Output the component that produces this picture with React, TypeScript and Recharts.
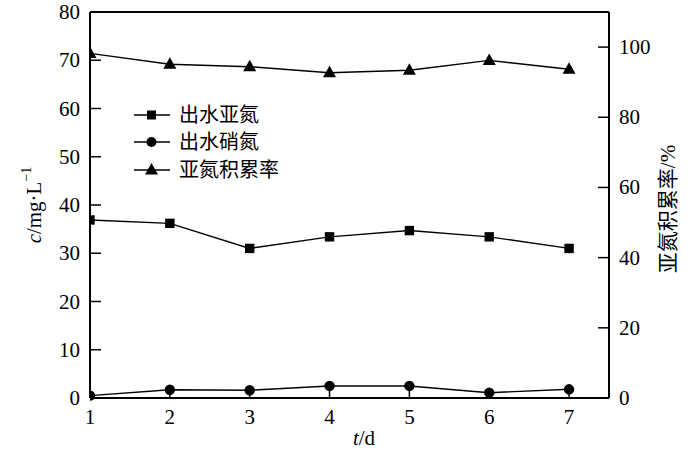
import React from 'react';
import { LineChart, Line, XAxis, YAxis, ReferenceLine, Legend } from 'recharts';

const days = [1, 2, 3, 4, 5, 6, 7];
const nitrite = [36.9, 36.2, 31.0, 33.4, 34.7, 33.4, 31.0];
const nitrate = [0.5, 1.7, 1.6, 2.5, 2.5, 1.1, 1.8];
const accumRate = [98.2, 95.1, 94.4, 92.7, 93.4, 96.2, 93.7];
const xTicks = [1, 2, 3, 4, 5, 6, 7];
const leftTicks = [0, 10, 20, 30, 40, 50, 60, 70, 80];
const rightTicks = [0, 20, 40, 60, 80, 100];
const seriesNames = ['出水亚氮', '出水硝氮', '亚氮积累率'];

const data = days.map((d, i) => ({
  day: d,
  nitrite: nitrite[i],
  nitrate: nitrate[i],
  rate: accumRate[i],
}));

const LATIN = '"Liberation Serif", "Times New Roman", serif';
const CJK = '"Liberation Serif", "Noto Sans CJK SC", serif';

const SquareDot = (p: any) => {
  const { cx, cy, key } = p;
  if (cx == null || cy == null) return null;
  return <rect key={key} x={cx - 4.7} y={cy - 4.7} width={9.4} height={9.4} fill="#000" />;
};
const CircleDot = (p: any) => {
  const { cx, cy, key } = p;
  if (cx == null || cy == null) return null;
  return <circle key={key} cx={cx} cy={cy} r={5.2} fill="#000" />;
};
const TriDot = (p: any) => {
  const { cx, cy, key } = p;
  if (cx == null || cy == null) return null;
  return (
    <polygon
      key={key}
      points={`${cx},${cy - 7} ${cx - 6.5},${cy + 4.5} ${cx + 6.5},${cy + 4.5}`}
      fill="#000"
    />
  );
};

const BottomTick = (p: any) => {
  const { x, y, payload } = p;
  return (
    <g>
      <line x1={x} y1={y} x2={x} y2={y - 8} stroke="#000" strokeWidth={1.5} />
      <text x={x} y={y + 26} textAnchor="middle" fontFamily={LATIN} fontSize={21} fill="#000">
        {payload.value}
      </text>
    </g>
  );
};

const LeftTick = (p: any) => {
  const { x, y, payload } = p;
  return (
    <g>
      <line x1={x} y1={y} x2={x + 11} y2={y} stroke="#000" strokeWidth={1.5} />
      <text x={x - 10} y={y + 7} textAnchor="end" fontFamily={LATIN} fontSize={21} fill="#000">
        {payload.value}
      </text>
    </g>
  );
};

const RightTick = (p: any) => {
  const { x, y, payload } = p;
  return (
    <g>
      <line x1={x} y1={y} x2={x - 11} y2={y} stroke="#000" strokeWidth={1.5} />
      <text x={x + 10} y={y + 7} textAnchor="start" fontFamily={LATIN} fontSize={21} fill="#000">
        {payload.value}
      </text>
    </g>
  );
};

const LegendContent = () => {
  const shapes = ['square', 'circle', 'tri'];
  return (
    <div>
      {seriesNames.map((name, i) => (
        <div key={name} style={{ display: 'flex', alignItems: 'center', height: 27.5 }}>
          <svg width={40} height={20} style={{ display: 'block' }}>
            <line x1={0} y1={10} x2={36} y2={10} stroke="#000" strokeWidth={1.4} />
            {shapes[i] === 'square' && <rect x={13} y={5.5} width={9} height={9} fill="#000" />}
            {shapes[i] === 'circle' && <circle cx={17.5} cy={10} r={5} fill="#000" />}
            {shapes[i] === 'tri' && <polygon points="17.5,3 11,14.5 24,14.5" fill="#000" />}
          </svg>
          <span style={{ fontFamily: CJK, fontSize: 20, color: '#000', marginLeft: 5, lineHeight: '20px' }}>
            {name}
          </span>
        </div>
      ))}
    </div>
  );
};

const LeftLabel = (props: any) => {
  const vb = props.viewBox || {};
  const cx = 34;
  const cy = (vb.y ?? 12) + (vb.height ?? 386) / 2;
  return (
    <text
      x={cx}
      y={cy}
      transform={`rotate(-90, ${cx}, ${cy})`}
      textAnchor="middle"
      dominantBaseline="central"
      fontFamily={LATIN}
      fontSize={21}
      fill="#000"
    >
      <tspan fontStyle="italic">c</tspan>
      <tspan>/mg·L</tspan>
      <tspan fontSize={14} dy={-8}>−1</tspan>
    </text>
  );
};

const RightLabel = (props: any) => {
  const vb = props.viewBox || {};
  const cx = 668;
  const cy = (vb.y ?? 12) + (vb.height ?? 386) / 2 + 4;
  return (
    <text
      x={cx}
      y={cy}
      transform={`rotate(-90, ${cx}, ${cy})`}
      textAnchor="middle"
      dominantBaseline="central"
      fontFamily={CJK}
      fontSize={21}
      fill="#000"
    >
      亚氮积累率/%
    </text>
  );
};

const BottomLabel = () => (
  <text x={364} y={445} textAnchor="middle" fontFamily={LATIN} fontSize={21} fill="#000">
    <tspan fontStyle="italic">t</tspan>
    <tspan>/d</tspan>
  </text>
);

export default function App() {
  return (
    <div style={{ position: 'absolute', left: 0, top: 0, width: 700, height: 453, background: '#fff' }}>
      <LineChart width={700} height={453} data={data} margin={{ top: 12, right: 0, bottom: 0, left: 0 }}>
        <XAxis
          dataKey="day"
          type="number"
          domain={[1, 7.5]}
          ticks={xTicks}
          allowDataOverflow
          height={55}
          axisLine={{ stroke: '#000', strokeWidth: 2 }}
          tickLine={false}
          tickSize={0}
          tickMargin={0}
          tick={<BottomTick />}
          label={<BottomLabel />}
        />
        <YAxis
          yAxisId="left"
          orientation="left"
          domain={[0, 80]}
          ticks={leftTicks}
          width={90}
          axisLine={{ stroke: '#000', strokeWidth: 2 }}
          tickLine={false}
          tickSize={0}
          tickMargin={0}
          tick={<LeftTick />}
          label={<LeftLabel />}
        />
        <YAxis
          yAxisId="right"
          orientation="right"
          domain={[0, 110]}
          ticks={rightTicks}
          width={91}
          axisLine={{ stroke: '#000', strokeWidth: 2 }}
          tickLine={false}
          tickSize={0}
          tickMargin={0}
          tick={<RightTick />}
          label={<RightLabel />}
        />
        <ReferenceLine yAxisId="left" y={80} stroke="#000" strokeWidth={2} ifOverflow="visible" />
        <Legend
          layout="vertical"
          align="center"
          verticalAlign="middle"
          content={<LegendContent />}
          wrapperStyle={{ position: 'absolute', left: 134, top: 101, width: 200, height: 90 }}
        />
        <Line
          yAxisId="left"
          dataKey="nitrite"
          name={seriesNames[0]}
          stroke="#000"
          strokeWidth={1.4}
          dot={SquareDot}
          isAnimationActive={false}
        />
        <Line
          yAxisId="left"
          dataKey="nitrate"
          name={seriesNames[1]}
          stroke="#000"
          strokeWidth={1.4}
          dot={CircleDot}
          isAnimationActive={false}
        />
        <Line
          yAxisId="right"
          dataKey="rate"
          name={seriesNames[2]}
          stroke="#000"
          strokeWidth={1.4}
          dot={TriDot}
          isAnimationActive={false}
        />
      </LineChart>
    </div>
  );
}
